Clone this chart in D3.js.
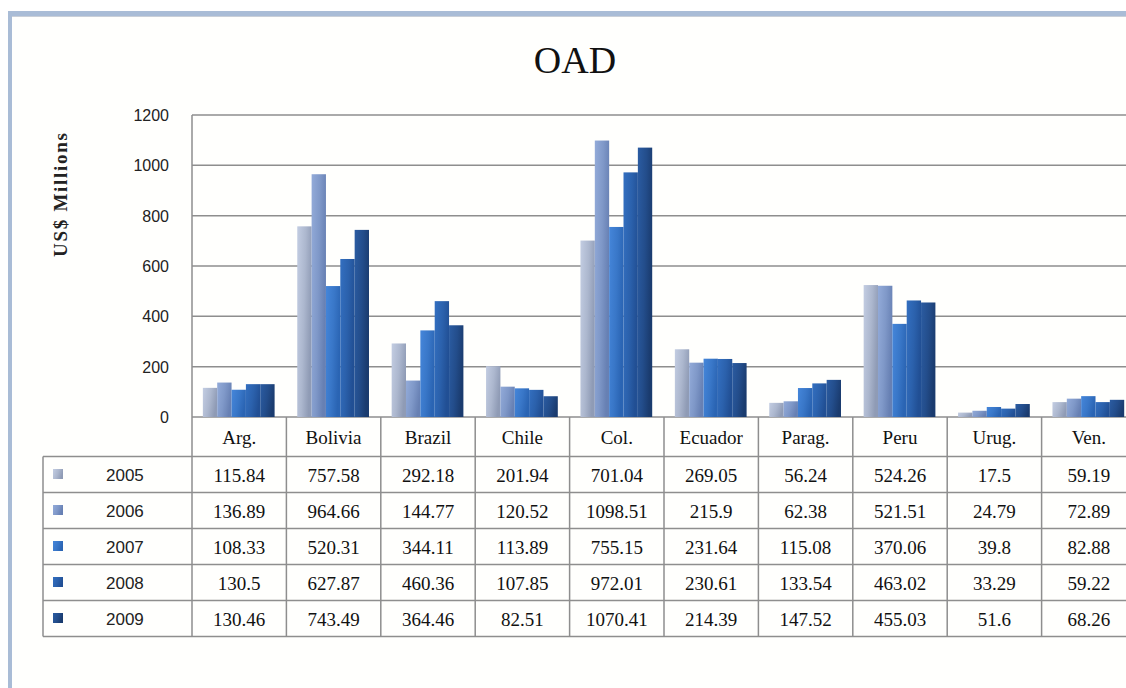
<!DOCTYPE html>
<html>
<head>
<meta charset="utf-8">
<script src="https://cdn.jsdelivr.net/npm/d3@7"></script>
<style>
  html, body { margin: 0; padding: 0; background: #ffffff; }
  svg { display: block; }
</style>
</head>
<body>
<svg id="chart" width="1126" height="688"></svg>
<script>
// Official development assistance by country, US$ millions
const countries = ["Arg.", "Bolivia", "Brazil", "Chile", "Col.", "Ecuador", "Parag.", "Peru", "Urug.", "Ven."];
const years = ["2005", "2006", "2007", "2008", "2009"];
const oad2005 = [115.84, 757.58, 292.18, 201.94, 701.04, 269.05, 56.24, 524.26, 17.5, 59.19];
const oad2006 = [136.89, 964.66, 144.77, 120.52, 1098.51, 215.9, 62.38, 521.51, 24.79, 72.89];
const oad2007 = [108.33, 520.31, 344.11, 113.89, 755.15, 231.64, 115.08, 370.06, 39.8, 82.88];
const oad2008 = [130.5, 627.87, 460.36, 107.85, 972.01, 230.61, 133.54, 463.02, 33.29, 59.22];
const oad2009 = [130.46, 743.49, 364.46, 82.51, 1070.41, 214.39, 147.52, 455.03, 51.6, 68.26];
const yTicks = [0, 200, 400, 600, 800, 1000, 1200];

const series = [oad2005, oad2006, oad2007, oad2008, oad2009];
// light / dark ends of each year's bar shading
const shades = [
  ["#c3cde2", "#8f9bb5"],
  ["#93abd9", "#6780b3"],
  ["#4586da", "#2a64b3"],
  ["#336fc0", "#214f94"],
  ["#2b5ca2", "#1a3b6e"]
];

const svg = d3.select("#chart");
const W = 1126, H = 688;

// frame
svg.append("rect").attr("x", 10).attr("y", 14).attr("width", W).attr("height", H)
  .attr("fill", "#fffffd");
svg.append("rect").attr("x", 8).attr("y", 11).attr("width", W).attr("height", 5).attr("fill", "#a9bcd6");
svg.append("line").attr("x1", 8).attr("x2", W).attr("y1", 16.5).attr("y2", 16.5)
  .attr("stroke", "#c9cfd8").attr("stroke-width", 1);
svg.append("rect").attr("x", 8).attr("y", 11).attr("width", 4).attr("height", H).attr("fill", "#a9bcd6");

const plotLeft = 192, bandW = 94.4;
const plotTop = 115, plotBottom = 417;

const x = d3.scaleBand().domain(countries)
  .range([plotLeft, plotLeft + bandW * countries.length]).paddingInner(0).paddingOuter(0);
const xs = d3.scaleBand().domain(years)
  .range([x.bandwidth() * 0.115, x.bandwidth() * 0.875]).padding(0);
const y = d3.scaleLinear().domain([0, 1200]).range([plotBottom, plotTop]);

// gradients
const defs = svg.append("defs");
shades.forEach((s, i) => {
  const g = defs.append("linearGradient").attr("id", "bar" + i)
    .attr("x1", 0).attr("x2", 1).attr("y1", 0).attr("y2", 0.35);
  g.append("stop").attr("offset", "0%").attr("stop-color", s[0]);
  g.append("stop").attr("offset", "55%").attr("stop-color", d3.interpolateRgb(s[0], s[1])(0.45));
  g.append("stop").attr("offset", "100%").attr("stop-color", s[1]);
});

const gridColor = "#8e8e8e";

// horizontal gridlines
svg.append("g").selectAll("line").data(yTicks).join("line")
  .attr("x1", plotLeft).attr("x2", W)
  .attr("y1", d => y(d)).attr("y2", d => y(d))
  .attr("stroke", gridColor).attr("stroke-width", 1.5);

// y axis tick labels
const yAxis = d3.axisLeft(y).tickValues(yTicks).tickSize(0).tickPadding(0).tickFormat(d3.format("d"));
const gy = svg.append("g").attr("transform", `translate(${plotLeft - 23},0)`).call(yAxis);
gy.select(".domain").remove();
gy.selectAll("text")
  .attr("font-family", "Liberation Sans, Arial, sans-serif")
  .attr("font-size", 16).attr("fill", "#222").attr("dy", "0.35em");

// plot left edge
svg.append("line").attr("x1", plotLeft).attr("x2", plotLeft)
  .attr("y1", plotTop).attr("y2", plotBottom)
  .attr("stroke", gridColor).attr("stroke-width", 1.5);

// bars
const groups = svg.append("g").selectAll("g").data(countries).join("g")
  .attr("transform", d => `translate(${x(d)},0)`);
groups.selectAll("rect")
  .data((c, ci) => years.map((yr, si) => ({ yr, si, v: series[si][ci] })))
  .join("rect")
  .attr("x", d => xs(d.yr))
  .attr("width", xs.bandwidth())
  .attr("y", d => y(d.v))
  .attr("height", d => y(0) - y(d.v))
  .attr("fill", d => `url(#bar${d.si})`);

// title
svg.append("text").attr("x", 575).attr("y", 73).attr("text-anchor", "middle")
  .attr("font-family", "Liberation Serif, Times New Roman, serif")
  .attr("font-size", 38).attr("fill", "#111").text("OAD");

// y axis title
svg.append("text")
  .attr("transform", "translate(67,195) rotate(-90)")
  .attr("text-anchor", "middle")
  .attr("font-family", "Liberation Serif, Times New Roman, serif")
  .attr("font-weight", "bold").attr("font-size", 19)
  .attr("textLength", 124).attr("lengthAdjust", "spacing")
  .attr("fill", "#222").text("US$ Millions");

// data table
const tableLeft = 43, headerTop = plotBottom, headerBottom = 456.5, rowH = 36;
const tableBottom = headerBottom + rowH * years.length;
const serif = "Liberation Serif, Times New Roman, serif";
const tbl = svg.append("g");

// horizontal rules
const hLines = d3.range(years.length + 1).map(i => headerBottom + i * rowH);
tbl.selectAll("line.h").data(hLines).join("line").attr("class", "h")
  .attr("x1", tableLeft).attr("x2", W)
  .attr("y1", d => d).attr("y2", d => d)
  .attr("stroke", gridColor).attr("stroke-width", 1.5);

// vertical rules
const vx = countries.map(c => x(c)).concat([x(countries[countries.length - 1]) + bandW]);
tbl.selectAll("line.v").data(vx).join("line").attr("class", "v")
  .attr("x1", d => d).attr("x2", d => d)
  .attr("y1", headerTop).attr("y2", tableBottom)
  .attr("stroke", gridColor).attr("stroke-width", 1.5);
tbl.append("line").attr("x1", tableLeft).attr("x2", tableLeft)
  .attr("y1", headerBottom).attr("y2", tableBottom)
  .attr("stroke", gridColor).attr("stroke-width", 1.5);

// category headers
tbl.selectAll("text.cat").data(countries).join("text").attr("class", "cat")
  .attr("x", d => x(d) + bandW / 2).attr("y", headerTop + 27)
  .attr("text-anchor", "middle")
  .attr("font-family", serif).attr("font-size", 19).attr("fill", "#111")
  .text(d => d);

// legend keys and year labels
const rows = tbl.selectAll("g.row").data(years).join("g").attr("class", "row")
  .attr("transform", (d, i) => `translate(0,${headerBottom + i * rowH})`);
rows.append("rect").attr("x", 53).attr("y", rowH / 2 - 5.5).attr("width", 10).attr("height", 10)
  .attr("fill", (d, i) => `url(#bar${i})`);
rows.append("text").attr("x", 106).attr("y", rowH / 2 + 6)
  .attr("font-family", "Liberation Sans, Arial, sans-serif")
  .attr("font-size", 17).attr("fill", "#222").text(d => d);

// values
rows.each(function (yr, si) {
  d3.select(this).selectAll("text.val").data(series[si]).join("text").attr("class", "val")
    .attr("x", (v, ci) => x(countries[ci]) + bandW / 2).attr("y", rowH / 2 + 7)
    .attr("text-anchor", "middle")
    .attr("font-family", serif).attr("font-size", 19).attr("fill", "#111")
    .text(v => v);
});
</script>
</body>
</html>
